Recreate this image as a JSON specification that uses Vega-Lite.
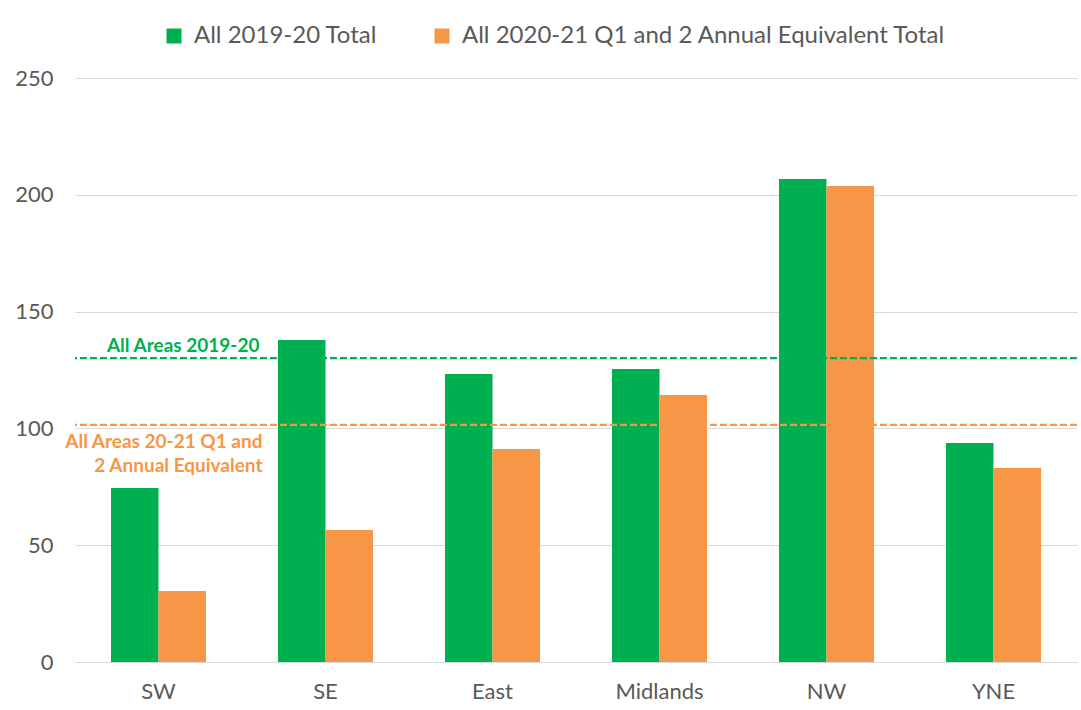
{
  "$schema": "https://vega.github.io/schema/vega-lite/v6.json",
  "width": 1002,
  "height": 584,
  "autosize": {"type": "none"},
  "padding": {"left": 75, "top": 78, "right": 4, "bottom": 48},
  "background": "white",
  "config": {
    "view": {"stroke": null},
    "font": "Lato",
    "axis": {"labelFont": "Lato", "labelColor": "#595959", "labelFontSize": 22, "ticks": false, "title": null},
    "legend": {"labelFont": "Lato"}
  },
  "datasets": {
    "bars": [
      {"region": "SW", "series": "All 2019-20 Total", "value": 74.5},
      {"region": "SW", "series": "All 2020-21 Q1 and 2 Annual Equivalent Total", "value": 30.4},
      {"region": "SE", "series": "All 2019-20 Total", "value": 137.8},
      {"region": "SE", "series": "All 2020-21 Q1 and 2 Annual Equivalent Total", "value": 56.5},
      {"region": "East", "series": "All 2019-20 Total", "value": 123.3},
      {"region": "East", "series": "All 2020-21 Q1 and 2 Annual Equivalent Total", "value": 91.2},
      {"region": "Midlands", "series": "All 2019-20 Total", "value": 125.4},
      {"region": "Midlands", "series": "All 2020-21 Q1 and 2 Annual Equivalent Total", "value": 114.3},
      {"region": "NW", "series": "All 2019-20 Total", "value": 206.8},
      {"region": "NW", "series": "All 2020-21 Q1 and 2 Annual Equivalent Total", "value": 203.8},
      {"region": "YNE", "series": "All 2019-20 Total", "value": 93.7},
      {"region": "YNE", "series": "All 2020-21 Q1 and 2 Annual Equivalent Total", "value": 83.0}
    ],
    "refs": [
      {"key": "green", "label": "All Areas 2019-20", "value": 130.1, "region": "SE"},
      {"key": "orange", "label": "All Areas 20-21 Q1 and\n2 Annual Equivalent", "value": 101.5, "region": "SE"}
    ]
  },
  "layer": [
    {
      "data": {"name": "bars"},
      "mark": {"type": "bar"},
      "encoding": {
        "x": {
          "field": "region", "type": "nominal", "sort": ["SW", "SE", "East", "Midlands", "NW", "YNE"],
          "scale": {"domain": ["SW", "SE", "East", "Midlands", "NW", "YNE"], "paddingInner": 0.431, "paddingOuter": 0.2155},
          "axis": {"domainColor": "#d9d9d9", "labelPadding": 19, "labelAngle": 0}
        },
        "xOffset": {"field": "series", "type": "nominal", "sort": null, "scale": {"paddingInner": 0}},
        "y": {
          "field": "value", "type": "quantitative",
          "scale": {"domain": [0, 250], "nice": false},
          "axis": {"values": [0, 50, 100, 150, 200, 250], "domain": false, "gridColor": "#d9d9d9", "labelPadding": 22}
        },
        "color": {
          "field": "series", "type": "nominal", "sort": null,
          "scale": {"domain": ["All 2019-20 Total", "All 2020-21 Q1 and 2 Annual Equivalent Total"], "range": ["#00B050", "#F79646"]},
          "legend": {
            "title": null, "orient": "none", "direction": "horizontal",
            "legendX": 87, "legendY": -54,
            "symbolType": "square", "symbolSize": 225, "symbolStrokeWidth": 0,
            "labelFontSize": 24, "labelColor": "#595959", "labelOffset": 8,
            "columnPadding": 52, "labelLimit": 700
          }
        }
      }
    },
    {
      "data": {"name": "refs"},
      "transform": [{"filter": "datum.key == 'green'"}],
      "mark": {"type": "rule", "color": "#00B050", "strokeWidth": 2.2, "strokeDash": [7, 3]},
      "encoding": {"y": {"field": "value", "type": "quantitative"}}
    },
    {
      "data": {"name": "refs"},
      "transform": [{"filter": "datum.key == 'orange'"}],
      "mark": {"type": "rule", "color": "#F79646", "strokeWidth": 2.2, "strokeDash": [7, 3]},
      "encoding": {"y": {"field": "value", "type": "quantitative"}}
    },
    {
      "data": {"name": "refs"},
      "transform": [{"filter": "datum.key == 'green'"}],
      "mark": {"type": "text", "color": "#00B050", "fontWeight": "bold", "fontSize": 19, "align": "right", "baseline": "alphabetic", "dx": -66, "dy": -6},
      "encoding": {
        "x": {"field": "region", "type": "nominal"},
        "y": {"field": "value", "type": "quantitative"},
        "text": {"field": "label"}
      }
    },
    {
      "data": {"name": "refs"},
      "transform": [{"filter": "datum.key == 'orange'"}],
      "mark": {"type": "text", "color": "#F79646", "fontWeight": "bold", "fontSize": 19, "align": "right", "baseline": "alphabetic", "dx": -63, "dy": 23, "lineBreak": "\n", "lineHeight": 24},
      "encoding": {
        "x": {"field": "region", "type": "nominal"},
        "y": {"field": "value", "type": "quantitative"},
        "text": {"field": "label"}
      }
    }
  ]
}
